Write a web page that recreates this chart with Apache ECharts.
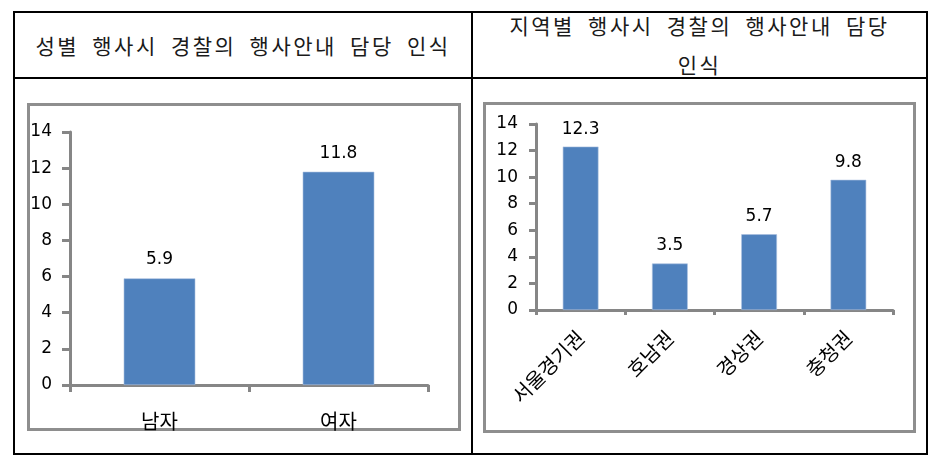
<!DOCTYPE html>
<html>
<head>
<meta charset="utf-8">
<script src="https://cdn.jsdelivr.net/npm/echarts@6/dist/echarts.min.js"></script>
<style>
  html, body { margin: 0; padding: 0; background: #fff; }
  #page { position: relative; width: 935px; height: 472px; overflow: hidden; }
  .line { position: absolute; background: #000; }
  .frame { position: absolute; border: 3px solid #8e8e8e; box-sizing: border-box; }
  .title { position: absolute; font-family: "Noto Sans CJK KR", sans-serif; font-size: 21px;
           letter-spacing: 2.5px; word-spacing: 6px; color: #1a1a1a; white-space: nowrap;
           text-align: center; line-height: 22px; }
  #chart { position: absolute; left: 0; top: 0; width: 935px; height: 472px; }
</style>
</head>
<body>
<div id="page">
  <div class="line" style="left:14px; top:11px; width:914px; height:2px;"></div>
  <div class="line" style="left:14px; top:77px; width:914px; height:2px;"></div>
  <div class="line" style="left:14px; top:453px; width:914px; height:2px;"></div>
  <div class="line" style="left:13px; top:11px; width:2px; height:444px;"></div>
  <div class="line" style="left:471px; top:11px; width:2px; height:444px;"></div>
  <div class="line" style="left:926px; top:11px; width:2px; height:444px;"></div>

  <div class="frame" style="left:27px; top:103px; width:434px; height:328px;"></div>
  <div class="frame" style="left:483px; top:102px; width:433px; height:331px;"></div>

  <div class="title" id="t1" style="left:14px; width:458px; top:34px;">성별 행사시 경찰의 행사안내 담당 인식</div>
  <div class="title" id="t2a" style="left:472px; width:455px; top:14px;">지역별 행사시 경찰의 행사안내 담당</div>
  <div class="title" id="t2b" style="left:472px; width:455px; top:53px;">인식</div>

  <div id="chart"></div>
</div>
<script>
  // Data
  const genderCategories = ['남자', '여자'];
  const genderValues = [5.9, 11.8];
  const regionCategories = ['서울경기권', '호남권', '경상권', '충청권'];
  const regionValues = [12.3, 3.5, 5.7, 9.8];
  const yMin = 0, yMax = 14, yStep = 2;

  const axisGray = '#868686';
  const barColor = '#4f81bd';
  const numFont = 'DejaVu Sans';
  const krFont = 'Noto Sans CJK KR';

  function yAxis(gridIndex, tickLen) {
    return {
      type: 'value', gridIndex: gridIndex, min: yMin, max: yMax, interval: yStep,
      axisLine: { show: true, lineStyle: { color: axisGray, width: 3 } },
      axisTick: { show: true, length: tickLen, lineStyle: { color: axisGray, width: 3 } },
      splitLine: { show: false },
      axisLabel: { margin: 18, color: '#000', fontFamily: numFont, fontSize: 17 }
    };
  }

  const chart = echarts.init(document.getElementById('chart'), null, { renderer: 'canvas' });
  chart.setOption({
    animation: false,
    backgroundColor: 'transparent',
    grid: [
      { left: 70, top: 132, width: 358, height: 253 },
      { left: 536, top: 124, width: 357, height: 186 }
    ],
    xAxis: [
      {
        type: 'category', gridIndex: 0, data: genderCategories,
        axisLine: { show: true, lineStyle: { color: axisGray, width: 3 } },
        axisTick: { show: true, length: 7, alignWithLabel: false, interval: 0, lineStyle: { color: axisGray, width: 3 } },
        axisLabel: { margin: 26, color: '#000', fontFamily: krFont, fontSize: 20, interval: 0 }
      },
      {
        type: 'category', gridIndex: 1, data: regionCategories,
        axisLine: { show: true, lineStyle: { color: axisGray, width: 3 } },
        axisTick: { show: true, length: 5, alignWithLabel: false, interval: 0, lineStyle: { color: axisGray, width: 3 } },
        axisLabel: { margin: 24, rotate: 45, color: '#000', fontFamily: krFont, fontSize: 20, interval: 0 }
      }
    ],
    yAxis: [ yAxis(0, 8), yAxis(1, 7) ],
    series: [
      {
        type: 'bar', xAxisIndex: 0, yAxisIndex: 0, data: genderValues, barWidth: '40%',
        itemStyle: { color: barColor, borderColor: '#a9c0df', borderWidth: 0.6 },
        label: { show: true, position: 'top', distance: 10, color: '#000', fontFamily: numFont, fontSize: 17 }
      },
      {
        type: 'bar', xAxisIndex: 1, yAxisIndex: 1, data: regionValues, barWidth: '40%',
        itemStyle: { color: barColor, borderColor: '#a9c0df', borderWidth: 0.6 },
        label: { show: true, position: 'top', distance: 9, color: '#000', fontFamily: numFont, fontSize: 17 }
      }
    ]
  });
</script>
</body>
</html>
